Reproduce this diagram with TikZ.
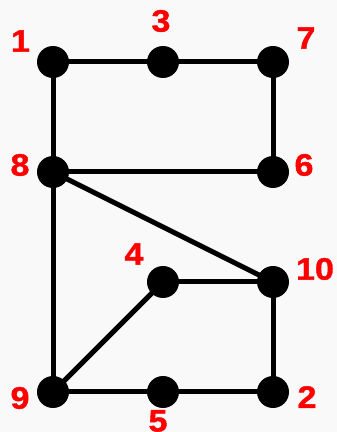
\documentclass[tikz,border=0pt]{standalone}
\usepackage{fontspec}
\setmainfont{Liberation Sans}
\newfontfamily\labfont[FakeBold=1.2,FakeStretch=1.1]{Liberation Sans Bold}
\definecolor{bg}{HTML}{F9F9F9}
\definecolor{lab}{HTML}{FF0000}
\begin{document}
\begin{tikzpicture}[x=1pt,y=1pt,
  vtx/.style={circle,fill=black,inner sep=0pt,minimum size=32pt},
  lbl/.style={text=lab,font=\labfont\fontsize{31}{31}\selectfont,inner sep=0pt,anchor=center},
  edge/.style={line width=5pt,draw=black}]
\fill[bg] (0,0) rectangle (337,432);
\useasboundingbox (0,0) rectangle (337,432);
\coordinate (c1) at (53,370);
\coordinate (c3) at (163,370);
\coordinate (c7) at (273,370);
\coordinate (c8) at (53,260);
\coordinate (c6) at (273,260);
\coordinate (c4) at (163,150);
\coordinate (c10) at (273,150);
\coordinate (c9) at (53,40);
\coordinate (c5) at (163,40);
\coordinate (c2) at (273,40);
\foreach \a/\b in {1/3,3/7,7/6,1/8,8/6,8/10,8/9,4/10,9/4,10/2,9/5,5/2}
  \draw[edge] (c\a) -- (c\b);
\foreach \n in {1,3,7,8,6,4,10,9,5,2}
  \node[vtx] (n\n) at (c\n) {};
\node[lbl] (l1) at (20.5,391) {1};
\node[lbl] (l3) at (161,411) {3};
\node[lbl] (l7) at (306,394) {7};
\node[lbl] (l8) at (20,267) {8};
\node[lbl] (l6) at (304,267) {6};
\node[lbl] (l4) at (134,178) {4};
\node[lbl] (l10) at (315,163) {10};
\node[lbl] (l9) at (20,34) {9};
\node[lbl] (l5) at (158,11) {5};
\node[lbl] (l2) at (307,35) {2};
\end{tikzpicture}
\end{document}
